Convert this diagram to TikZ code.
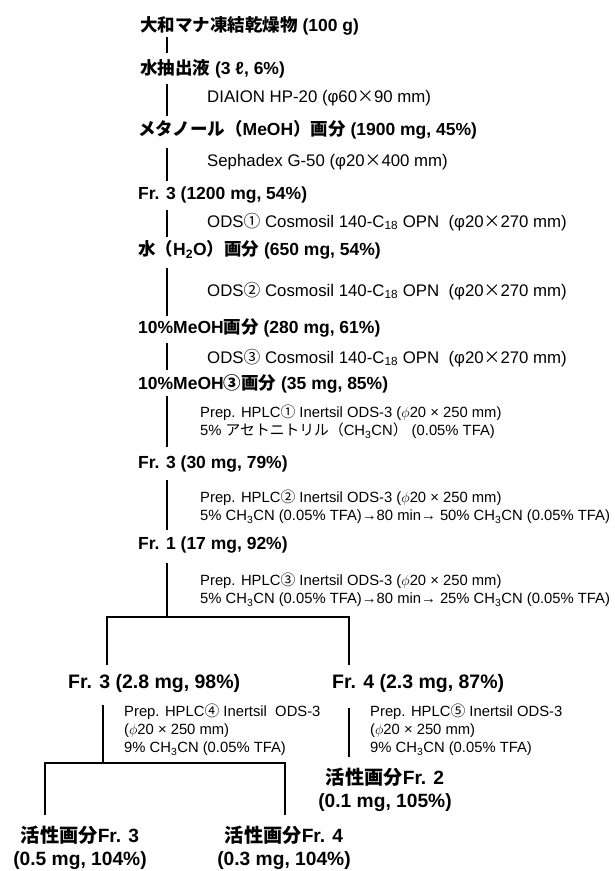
\documentclass[tikz,border=0pt]{standalone}
\usepackage{fontspec}
\setmainfont{Liberation Sans}
\newfontfamily\jp{Noto Sans CJK JP}
\usetikzlibrary{calc}
\newcommand\J[1]{{\jp #1}}

\begin{document}
\begin{tikzpicture}[x=1pt,y=-1pt,line cap=butt]
\path[fill=white] (0,0) rectangle (614,871);
\tikzset{frac/.style={anchor=west,inner sep=0pt,font=\fontsize{17.5}{20}\selectfont\bfseries},subfrac/.style={frac,font=\fontsize{19.5}{22}\selectfont\bfseries},cond/.style={anchor=west,inner sep=0pt,font=\fontsize{16.8}{19}\selectfont},hplc/.style={anchor=west,inner sep=0pt,align=left,font=\fontsize{14.8}{18}\selectfont},active/.style={inner sep=0pt,align=center,font=\fontsize{19.2}{23.5}\selectfont\bfseries},stem/.style={draw=black,line width=1.8pt}}
\coordinate (axis) at (167,0);
% main column
\node[frac] (dry) at (140,26) {\J{大和マナ凍結乾燥物} (100 g)};
\node[frac] (water) at (140,69) {\J{水抽出液} (3 ℓ, 6\%)};
\node[cond] (diaion) at (207,98) {DIAION HP-20 (φ60\J{×}90 mm)};
\node[frac] (meoh) at (138,130) {\J{メタノール（}MeOH\J{）画分} (1900 mg, 45\%)};
\node[cond] (sephadex) at (207,162) {Sephadex G-50 (φ20\J{×}400 mm)};
\node[frac] (fr3a) at (138,195) {Fr. 3 (1200 mg, 54\%)};
\node[cond] (ods1) at (207,222) {ODS\J{①} Cosmosil 140-C\textsubscript{18} OPN~ (φ20\J{×}270 mm)};
\node[frac] (h2o) at (138,250) {\J{水（}H\textsubscript{2}O\J{）画分} (650 mg, 54\%)};
\node[cond] (ods2) at (207,291) {ODS\J{②} Cosmosil 140-C\textsubscript{18} OPN~ (φ20\J{×}270 mm)};
\node[frac] (meoh10) at (138,328) {10\%MeOH\J{画分} (280 mg, 61\%)};
\node[cond] (ods3) at (207,358) {ODS\J{③} Cosmosil 140-C\textsubscript{18} OPN~ (φ20\J{×}270 mm)};
\node[frac] (meoh10c) at (138,384) {10\%MeOH\J{③画分} (35 mg, 85\%)};
\node[hplc] (hplc1) at (200,422) {Prep. HPLC\J{①} Inertsil ODS-3 ($\phi$20 × 250 mm)\\5\% \J{アセトニトリル（}CH\textsubscript{3}CN\J{）} (0.05\% TFA)};
\node[frac] (fr3b) at (138,464) {Fr. 3 (30 mg, 79\%)};
\node[hplc] (hplc2) at (200,507) {Prep. HPLC\J{②} Inertsil ODS-3 ($\phi$20 × 250 mm)\\5\% CH\textsubscript{3}CN (0.05\% TFA)→80 min→ 50\% CH\textsubscript{3}CN (0.05\% TFA)};
\node[frac] (fr1) at (138,545) {Fr. 1 (17 mg, 92\%)};
\node[hplc] (hplc3) at (200,590) {Prep. HPLC\J{③} Inertsil ODS-3 ($\phi$20 × 250 mm)\\5\% CH\textsubscript{3}CN (0.05\% TFA)→80 min→ 25\% CH\textsubscript{3}CN (0.05\% TFA)};
% branches
\node[subfrac] (fr3c) at (68,683) {Fr. 3 (2.8 mg, 98\%)};
\node[subfrac] (fr4) at (332,683) {Fr. 4 (2.3 mg, 87\%)};
\node[hplc] (hplc4) at (124,730) {Prep. HPLC\J{④} Inertsil~ ODS-3\\($\phi$20 × 250 mm)\\9\% CH\textsubscript{3}CN (0.05\% TFA)};
\node[hplc] (hplc5) at (370,730) {Prep. HPLC\J{⑤} Inertsil ODS-3\\($\phi$20 × 250 mm)\\9\% CH\textsubscript{3}CN (0.05\% TFA)};
\node[active] (act2) at (385,790) {\J{活性画分}Fr. 2\\(0.1 mg, 105\%)};
\node[active] (act3) at (80,848) {\J{活性画分}Fr. 3\\(0.5 mg, 104\%)};
\node[active] (act4) at (284,848) {\J{活性画分}Fr. 4\\(0.3 mg, 104\%)};
% connectors
\draw[stem,shorten <=11pt,shorten >=16pt] (dry -| axis) -- (water -| axis);
\draw[stem,shorten <=15pt,shorten >=14pt] (water -| axis) -- (meoh -| axis);
\draw[stem,shorten <=18pt,shorten >=14pt] (meoh -| axis) -- (fr3a -| axis);
\draw[stem,shorten <=15pt,shorten >=13pt] (fr3a -| axis) -- (h2o -| axis);
\draw[stem,shorten <=18pt,shorten >=12pt] (h2o -| axis) -- (meoh10 -| axis);
\draw[stem,shorten <=15pt,shorten >=14pt] (meoh10 -| axis) -- (meoh10c -| axis);
\draw[stem,shorten <=12pt,shorten >=17pt] (meoh10c -| axis) -- (fr3b -| axis);
\draw[stem,shorten <=16pt,shorten >=15pt] (fr3b -| axis) -- (fr1 -| axis);
\coordinate (split1) at (167,617); \coordinate (drop3) at (107,665); \coordinate (drop4) at (349,665);
\draw[stem,shorten <=18pt] (fr1 -| axis) -- (split1);
\draw[stem] (drop3) |- (split1) -| (drop4);
\coordinate (split2) at (103,763); \coordinate (drop5) at (45,815); \coordinate (drop6) at (285,815); \coordinate (end4) at (349,757);
\draw[stem,shorten <=22pt] (fr3c -| split2) -- (split2);
\draw[stem] (drop5) |- (split2) -| (drop6);
\draw[stem,shorten <=25pt] (fr4 -| end4) -- (end4);
\end{tikzpicture}
\end{document}
